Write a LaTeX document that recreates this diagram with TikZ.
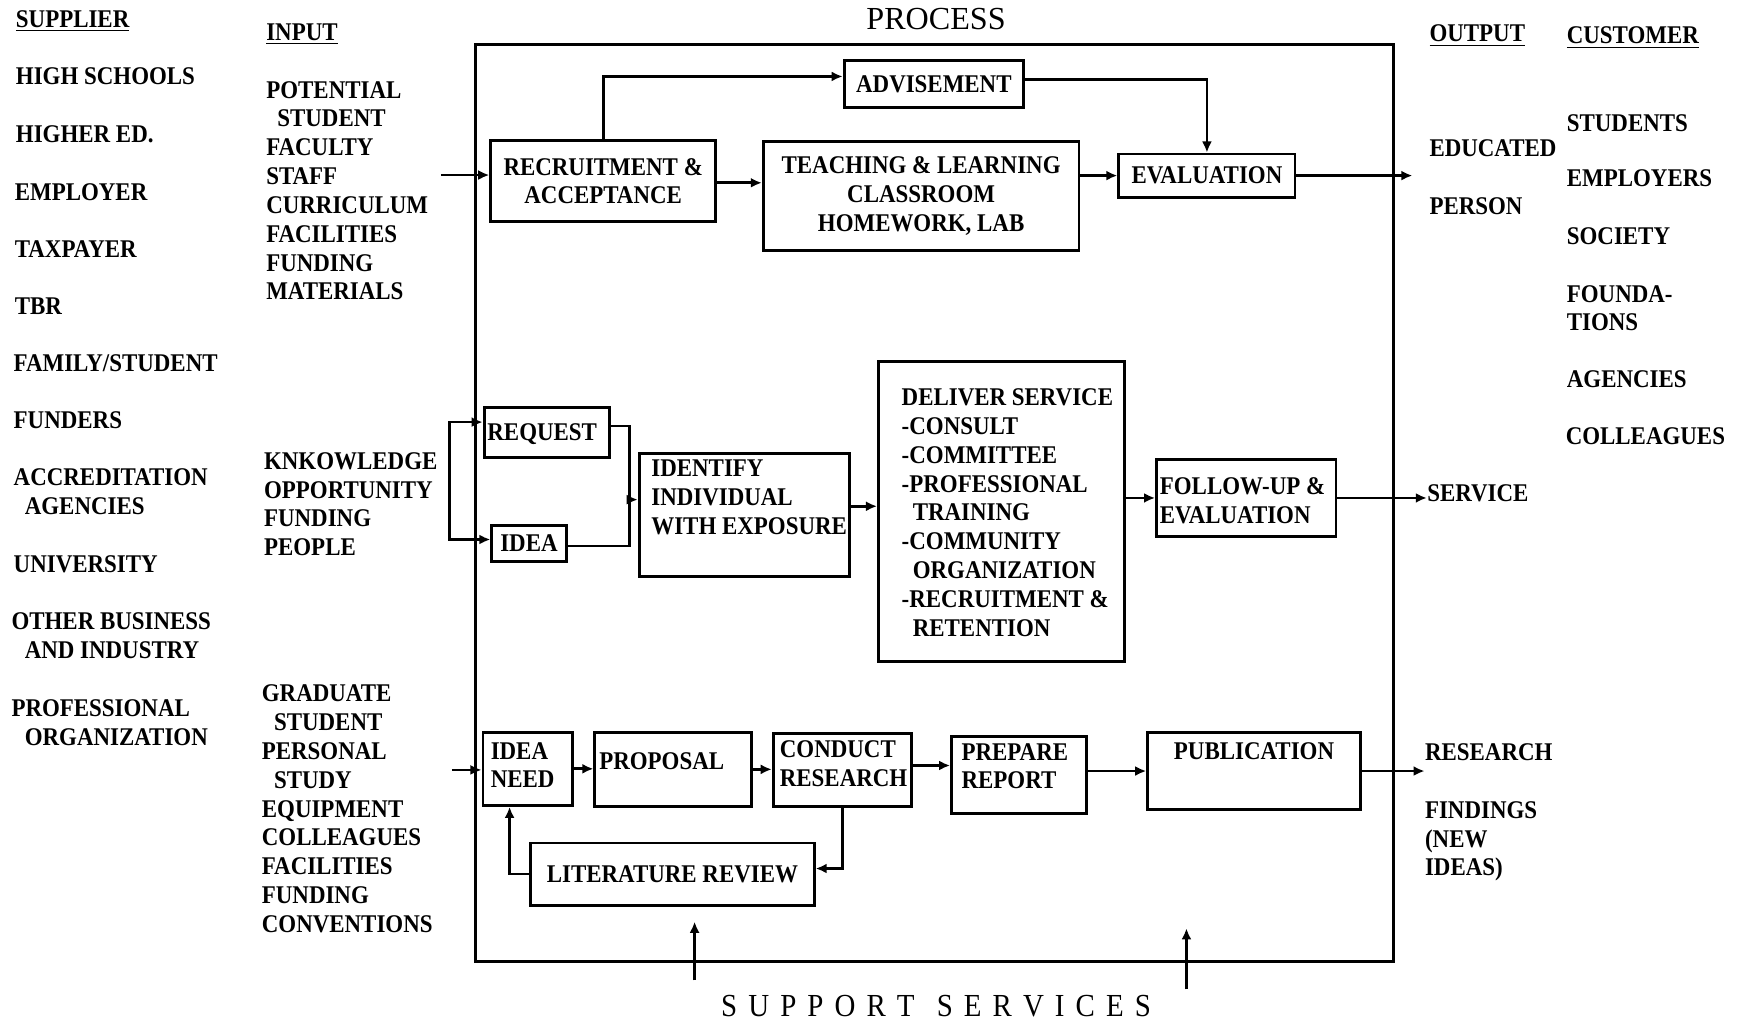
\documentclass[tikz,border=0pt]{standalone}
\usepackage{fontspec}
\setmainfont{Liberation Serif}[FakeStretch=0.9]
\newfontfamily\widefont{Liberation Serif}
\usetikzlibrary{arrows.meta}
\newcommand\tlb[5]{\parbox[c][#2][t]{#1}{\raggedright\leftskip=#3\relax\vspace*{#4}#5\par}}
\newcommand\lsp{\hspace{5pt}}
\begin{document}
\begin{tikzpicture}[x=0.5pt,y=-0.5pt,
  every node/.style={font=\fontsize{11.5}{13}\selectfont\bfseries},
  lbl/.style={inner sep=0pt, anchor=north west, align=left},
  box/.style={draw, line width=1.3pt, inner sep=0pt, align=center},
  conn/.style={line width=1.2pt},
  arr/.style={conn, -{Latex[length=5pt,width=4.5pt]}}]
\useasboundingbox (0,0) rectangle (1568,923);

% process frame
\node[draw, line width=1.4pt, minimum width=414.5pt, minimum height=414pt, inner sep=0pt] (proc) at (843.5,454) {};
\node[font=\widefont\fontsize{14.5}{16}\selectfont, inner sep=0pt] (ptitle) at (845,17) {PROCESS};
\node[font=\fontsize{14.5}{16}\selectfont, inner sep=0pt] (supp) at (845,908)
  {S\lsp U\lsp P\lsp P\lsp O\lsp R\lsp T\hspace{10pt}S\lsp E\lsp R\lsp V\lsp I\lsp C\lsp E\lsp S};

% supplier column
\node[lbl] (suph) at (14,9) {\underline{SUPPLIER}};
\node[lbl] (s1) at (14,61) {HIGH SCHOOLS};
\node[lbl] (s2) at (14,113) {HIGHER ED.};
\node[lbl] (s3) at (13,165) {EMPLOYER};
\node[lbl] (s4) at (13,217) {TAXPAYER};
\node[lbl] (s5) at (13,268) {TBR};
\node[lbl] (s6) at (12,320) {FAMILY/STUDENT};
\node[lbl] (s7) at (12,371) {FUNDERS};
\node[lbl] (s8) at (12,423) {ACCREDITATION\\\hspace*{5pt}AGENCIES};
\node[lbl] (s9) at (12,501) {UNIVERSITY};
\node[lbl] (s10) at (10,553) {OTHER BUSINESS\\\hspace*{6pt}AND INDUSTRY};
\node[lbl] (s11) at (10,631) {PROFESSIONAL\\\hspace*{6pt}ORGANIZATION};

% input column
\node[lbl] (inph) at (240,21) {\underline{INPUT}};
\node[lbl] (i1) at (240,73) {POTENTIAL\\\hspace*{5pt}STUDENT\\FACULTY\\STAFF\\CURRICULUM\\FACILITIES\\FUNDING\\MATERIALS};
\node[lbl] (i2) at (238,408) {KNKOWLEDGE\\OPPORTUNITY\\FUNDING\\PEOPLE};
\node[lbl] (i3) at (236,618) {GRADUATE\\\hspace*{5.5pt}STUDENT\\PERSONAL\\\hspace*{5.5pt}STUDY\\EQUIPMENT\\COLLEAGUES\\FACILITIES\\FUNDING\\CONVENTIONS};

% output column
\node[lbl] (outh) at (1290,22) {\underline{OUTPUT}};
\node[lbl] (o1) at (1290,126) {EDUCATED};
\node[lbl] (o2) at (1290,178) {PERSON};
\node[lbl] (o3) at (1288,437) {SERVICE};
\node[lbl] (o4) at (1286,671) {RESEARCH};
\node[lbl] (o5) at (1286,723) {FINDINGS\\(NEW\\IDEAS)};

% customer column
\node[lbl] (cush) at (1414,24) {\underline{CUSTOMER}};
\node[lbl] (c1) at (1414,103) {STUDENTS};
\node[lbl] (c2) at (1414,153) {EMPLOYERS};
\node[lbl] (c3) at (1414,205) {SOCIETY};
\node[lbl] (c4) at (1414,257) {FOUNDA-\\TIONS};
\node[lbl] (c5) at (1414,334) {AGENCIES};
\node[lbl] (c6) at (1413,386) {COLLEAGUES};

% top row
\node[box, minimum width=81pt, minimum height=21pt] (adv) at (843,76) {ADVISEMENT};
\node[box, minimum width=101.5pt, minimum height=36.5pt] (rec) at (544.5,163.5) {RECRUITMENT \&\\ACCEPTANCE};
\node[box, minimum width=142.5pt, minimum height=49pt] (teach) at (831.5,177) {TEACHING \& LEARNING\\CLASSROOM\\HOMEWORK, LAB};
\node[box, minimum width=79.5pt, minimum height=19.5pt] (eval) at (1089.5,158.5) {EVALUATION};

% middle row
\node[box] (req) at (493.5,390.5) {\tlb{56.5pt}{22.5pt}{1.5pt}{7pt}{REQUEST}};
\node[box, minimum width=33.5pt, minimum height=16.5pt] (idea) at (477.5,490.5) {IDEA};
\node[box] (idt) at (672,464.5) {\tlb{95pt}{55.5pt}{5.5pt}{3pt}{IDENTIFY\\INDIVIDUAL\\WITH EXPOSURE}};
\node[box] (del) at (904,461.5) {\tlb{111pt}{135.5pt}{10.5pt}{12.5pt}{DELIVER SERVICE\\-CONSULT\\-COMMITTEE\\-PROFESSIONAL\\\hspace*{5pt}TRAINING\\-COMMUNITY\\\hspace*{5pt}ORGANIZATION\\-RECRUITMENT \&\\\hspace*{5pt}RETENTION}};
\node[box] (fol) at (1125,449.5) {\tlb{81pt}{34.5pt}{1.5pt}{8pt}{FOLLOW-UP \&\\EVALUATION}};

% bottom row
\node[box] (ineed) at (476.5,694) {\tlb{40.5pt}{33pt}{3.5pt}{4.5pt}{IDEA\\NEED}};
\node[box] (prop) at (607.5,694.5) {\tlb{70.5pt}{33.5pt}{2pt}{9pt}{PROPOSAL}};
\node[box] (cond) at (760.5,695) {\tlb{62.5pt}{33pt}{3pt}{3.5pt}{CONDUCT\\RESEARCH}};
\node[box] (prep) at (920,699.5) {\tlb{61pt}{34.5pt}{4.5pt}{3pt}{PREPARE\\REPORT}};
\node[box] (pub) at (1132,696) {\parbox[c][35pt][t]{96pt}{\centering\vspace*{4.5pt}PUBLICATION\par}};
\node[box, minimum width=128pt, minimum height=28pt] (lit) at (607,789) {LITERATURE REVIEW};

% free ends
\coordinate (in1) at (398,158);
\coordinate (out1) at (1275,158.5);
\coordinate (bk) at (406,436);
\coordinate (jn) at (568,451);
\coordinate (in3) at (408,695);
\coordinate (sa1) at (627,885);
\coordinate (sa1t) at (627,832);
\coordinate (sa2) at (1071,893);
\coordinate (sa2t) at (1071,838);

% connectors: top row
\draw[arr] (in1) -- (in1 -| rec.west);
\draw[arr] (rec.north) |- ([yshift=3.5pt]adv.west);
\draw[arr] ([yshift=2pt]adv.east) -| (eval.north);
\draw[arr] ([yshift=-0.75pt]rec.east) -- ([yshift=-0.75pt]rec.east -| teach.west);
\draw[arr] (eval.west -| teach.east) -- (eval.west);
\draw[arr] (eval.east) -- (out1);

% connectors: middle row
\draw[arr] (bk) |- ([yshift=4.75pt]req.west);
\draw[arr] (bk) |- ([yshift=1.75pt]idea.west);
\draw[conn] ([yshift=3pt]req.east) -| (jn);
\draw[conn] ([yshift=-1.25pt]idea.east) -| (jn);
\draw[arr] (jn) -- (jn -| idt.west);
\draw[arr] ([yshift=3.75pt]idt.east) -- ([yshift=3.75pt]idt.east -| del.west);
\draw[arr] (fol.west -| del.east) -- (fol.west);
\draw[arr] (fol.east) -- (fol.east -| o3.west);

% connectors: bottom row
\draw[arr] (in3) -- (in3 -| ineed.west);
\draw[arr] (ineed.east) -- (ineed.east -| prop.west);
\draw[arr] (prop.east) -- (prop.east -| cond.west);
\draw[arr] ([yshift=2pt]cond.east) -- ([yshift=2pt]cond.east -| prep.west);
\draw[arr] (pub.west -| prep.east) -- (pub.west);
\draw[arr] (pub.east) -- (pub.east -| o4.west);
\draw[arr] (cond.south) |- ([yshift=2.5pt]lit.east);
\draw[arr] (lit.west) -| ([xshift=-8.25pt]ineed.south);

% support services
\draw[arr] (sa1) -- (sa1t);
\draw[arr] (sa2) -- (sa2t);
\end{tikzpicture}
\end{document}
